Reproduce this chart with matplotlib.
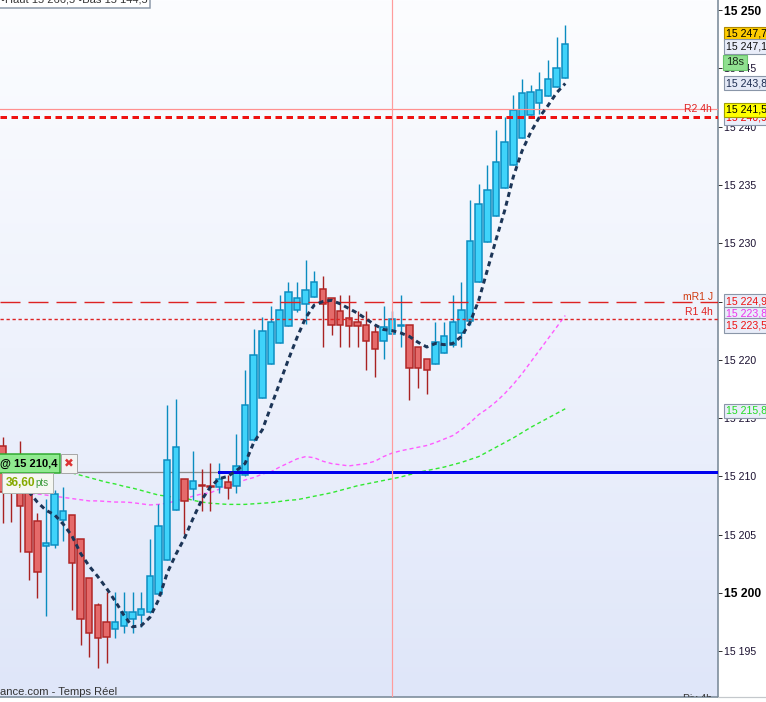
import numpy as np
import matplotlib
matplotlib.use('Agg')
import matplotlib.pyplot as plt
import matplotlib.transforms as mtransforms
from matplotlib.patches import Rectangle
from matplotlib.lines import Line2D
from matplotlib.colors import LinearSegmentedColormap

plt.rcParams['font.family'] = ['Liberation Sans', 'DejaVu Sans']
plt.rcParams['lines.scale_dashes'] = False

W, H, DPI = 766, 702, 100
PX = 72.0 / DPI

# ---------------- data ----------------
opens = [15212.6, 15210.0, 15208.6, 15208.8, 15206.2, 15204.0, 15204.1, 15206.3, 15206.65, 15204.6,
         15201.25, 15199.0, 15197.5, 15196.9, 15197.2, 15197.75, 15198.1, 15198.35, 15199.9, 15202.8,
         15207.1, 15209.75, 15208.9, 15209.2, 15209.2, 15209.1, 15209.5, 15209.2, 15210.1, 15213.1,
         15216.7, 15219.6, 15221.4, 15222.9, 15224.3, 15224.8, 15225.4, 15226.05, 15225.3, 15224.15,
         15223.55, 15223.2, 15223.0, 15222.35, 15221.6, 15222.2, 15222.87, 15222.96, 15221.1, 15220.1,
         15219.6, 15220.55, 15221.25, 15222.3, 15223.3, 15226.7, 15230.1, 15232.3, 15234.7, 15236.7,
         15239.0, 15241.0, 15242.0, 15242.6, 15243.4, 15244.2]
closes = [15208.7, 15208.8, 15207.5, 15203.5, 15201.8, 15204.3, 15208.5, 15207.0, 15202.6, 15197.8,
          15196.6, 15196.1, 15196.2, 15197.55, 15198.35, 15198.35, 15198.6, 15201.46, 15205.75, 15211.4,
          15212.5, 15207.9, 15209.6, 15209.2, 15209.05, 15209.8, 15209.0, 15210.9, 15216.1, 15220.4,
          15222.5, 15223.2, 15224.25, 15225.8, 15225.3, 15225.96, 15226.65, 15224.8, 15222.95, 15222.95,
          15222.9, 15222.9, 15221.6, 15220.9, 15222.8, 15223.5, 15222.96, 15219.3, 15219.3, 15219.1,
          15221.5, 15222.0, 15223.2, 15224.25, 15230.2, 15233.4, 15234.6, 15237.0, 15238.65, 15241.4,
          15242.9, 15243.0, 15243.1, 15244.1, 15245.0, 15247.1]
highs = [15213.4, 15210.5, 15213.0, 15209.2, 15206.9, 15208.1, 15208.8, 15209.1, 15206.7, 15204.6,
         15201.3, 15199.1, 15200.1, 15200.1, 15200.06, 15200.06, 15200.06, 15204.6, 15207.6, 15216.1,
         15216.6, 15209.75, 15212.2, 15210.6, 15211.15, 15211.15, 15210.1, 15213.6, 15219.1, 15222.6,
         15223.7, 15224.6, 15225.6, 15226.65, 15226.65, 15228.6, 15227.6, 15227.2, 15225.3, 15225.6,
         15225.6, 15224.2, 15224.2, 15223.1, 15224.6, 15224.2, 15225.6, 15222.96, 15221.1, 15220.1,
         15223.2, 15223.2, 15225.6, 15226.7, 15233.7, 15235.1, 15236.7, 15239.7, 15240.8, 15242.7,
         15244.1, 15243.6, 15244.65, 15245.7, 15247.7, 15248.7]
lows = [15206.0, 15206.1, 15203.5, 15201.1, 15199.6, 15198.05, 15203.9, 15204.5, 15198.5, 15195.5,
        15194.5, 15193.6, 15194.0, 15196.1, 15196.6, 15196.6, 15197.1, 15198.3, 15199.9, 15202.8,
        15207.1, 15205.1, 15208.0, 15207.05, 15207.05, 15208.6, 15208.1, 15208.6, 15210.0, 15213.0,
        15216.7, 15219.6, 15221.4, 15222.9, 15224.1, 15223.1, 15225.4, 15221.1, 15222.1, 15221.1,
        15221.1, 15221.1, 15219.1, 15218.55, 15220.1, 15222.2, 15221.1, 15216.55, 15217.6, 15217.1,
        15219.6, 15220.55, 15221.1, 15221.1, 15223.0, 15226.7, 15230.1, 15232.3, 15234.7, 15236.7,
        15239.0, 15241.0, 15241.1, 15242.6, 15243.4, 15244.2]

# dark trailing curve (starts at candle 3)
trail_start = 3
trail = [15208.7, 15207.8, 15207.1, 15206.7, 15205.9, 15204.9, 15203.4, 15202.3, 15201.4, 15200.4,
         15199.3, 15198.1, 15197.1, 15197.2, 15197.9, 15199.4, 15201.7, 15203.3, 15204.7, 15206.4,
         15208.0, 15209.1, 15209.8, 15210.0, 15210.5, 15211.1, 15212.9, 15214.0, 15216.0, 15218.0,
         15220.0, 15221.9, 15223.6, 15224.7, 15225.0, 15225.1, 15224.8, 15224.4, 15224.0, 15223.5,
         15223.0, 15222.6, 15222.5, 15222.3, 15222.0, 15221.5, 15221.1, 15221.4, 15221.3, 15221.4,
         15222.0, 15223.2, 15225.1, 15227.7, 15230.3, 15232.8, 15235.7, 15237.9, 15239.5, 15240.8,
         15241.8, 15242.9, 15243.7]

# magenta moving average (candles 0..65)
ma_fast = [15208.6, 15208.6, 15208.6, 15208.5, 15208.5, 15208.4, 15208.3, 15208.2, 15208.1, 15208.0,
           15207.9, 15207.9, 15207.85, 15207.8, 15207.8, 15207.75, 15207.65, 15207.55, 15207.6, 15207.7,
           15207.9, 15208.1, 15208.3, 15208.5, 15208.6, 15208.9, 15209.2, 15209.4, 15209.7, 15209.9,
           15210.2, 15210.4, 15210.8, 15211.15, 15211.5, 15211.7, 15211.6, 15211.3, 15211.1, 15211.0,
           15210.9, 15211.0, 15211.1, 15211.3, 15211.7, 15212.0, 15212.2, 15212.35, 15212.5, 15212.65,
           15212.9, 15213.2, 15213.5, 15214.0, 15214.6, 15215.3, 15215.8, 15216.4, 15217.1, 15217.9,
           15218.8, 15219.8, 15220.8, 15221.8, 15222.8, 15223.8]

# green moving average (starts at candle 8)
ma_slow_start = 8
ma_slow = [15210.3, 15210.1, 15209.9, 15209.7, 15209.5, 15209.35, 15209.15, 15209.0, 15208.8, 15208.6,
           15208.4, 15208.3, 15208.2, 15208.15, 15207.95, 15207.8, 15207.7, 15207.65, 15207.6, 15207.6,
           15207.6, 15207.65, 15207.7, 15207.75, 15207.85, 15207.95, 15208.0, 15208.15, 15208.3, 15208.45,
           15208.6, 15208.8, 15209.0, 15209.2, 15209.35, 15209.5, 15209.65, 15209.8, 15209.95, 15210.15,
           15210.35, 15210.5, 15210.65, 15210.8, 15211.0, 15211.2, 15211.45, 15211.7, 15212.1, 15212.5,
           15212.9, 15213.3, 15213.75, 15214.2, 15214.6, 15215.0, 15215.4, 15215.8]

yticks = [15195, 15200, 15205, 15210, 15215, 15220, 15225, 15230, 15235, 15240, 15245, 15250]
bold_ticks = [15200, 15250]

r2_4h = 15241.5
r2_dash = 15240.85
mr1_j = 15224.96
r1_4h = 15223.5
order_level = 15210.35
order_start = 25
cursor_idx = 45

# right-side price boxes: (text, y position, face, text colour, edge)
boxes = [
    ("15 247,7", 15247.96, "#ffcc00", "#000000", "#b08a00"),
    ("15 247,1", 15246.87, "#e9edf9", "#111111", "#8a96a8"),
    ("15 243,8", 15243.74, "#e4e9f6", "#1c2c50", "#8a96a8"),
    ("15 240,9", 15240.74, "#e9edf9", "#ee0000", "#8a96a8"),
    ("15 241,5", 15241.45, "#ffff00", "#000000", "#a0a000"),
    ("15 224,9", 15225.04, "#e9edf9", "#ee1111", "#8a96a8"),
    ("15 223,8", 15223.93, "#e9edf9", "#ee33ee", "#8a96a8"),
    ("15 223,5", 15222.94, "#e9edf9", "#ee1111", "#8a96a8"),
    ("15 215,8", 15215.61, "#e9edf9", "#22dd22", "#8a96a8"),
]

# ---------------- figure ----------------
fig = plt.figure(figsize=(W / DPI, H / DPI), dpi=DPI, facecolor='white')
ax = fig.add_axes([0, 5 / H, 718 / W, 697 / H])

x = np.arange(len(opens))
o = np.array(opens); c = np.array(closes); hi = np.array(highs); lo = np.array(lows)

# background gradient
cmap = LinearSegmentedColormap.from_list('bg', ['#fcfdff', '#eef2fc', '#dfe6f9'])
grad = np.linspace(0, 1, 256).reshape(-1, 1)
ax.imshow(grad, extent=[0, 1, 0, 1], transform=ax.transAxes, aspect='auto',
          cmap=cmap, origin='upper', zorder=0)

# moving averages
ax.plot(x, ma_fast, color='#ff5cff', lw=1.4 * PX, dashes=(4 * PX, 3 * PX), zorder=2)
ax.plot(x[ma_slow_start:ma_slow_start + len(ma_slow)], ma_slow, color='#33e833',
        lw=1.4 * PX, dashes=(4 * PX, 3 * PX), zorder=2)

# order line (grey) + blue part
ax.axhline(order_level, color='#8c8c8c', lw=1.3 * PX, zorder=2.5)

# candles
up = c > o
wick_col = np.where(up, '#0a8cc0', '#a82222')
body_col = np.where(up, '#3fd3fa', '#e56a6a')
edge_col = np.where(up, '#0a8cc0', '#b02424')
ax.vlines(x, lo, hi, colors=wick_col, lw=1.4 * PX, zorder=3)
bottom = np.minimum(o, c)
height = np.maximum(np.abs(c - o), 0.03)
ax.bar(x, height, bottom=bottom, width=0.74, color=body_col, edgecolor=edge_col,
       linewidth=1.5 * PX, zorder=3.2)

# horizontal levels
ax.plot([order_start, 100], [order_level, order_level], color='#0000ee', lw=3 * PX, zorder=5)
ax.axhline(r2_4h, color='#ff9090', lw=1.2 * PX, zorder=5)
ax.axhline(r2_dash, color='#ee1111', lw=3 * PX, dashes=(6.5 * PX, 4.5 * PX), zorder=5)
ax.axhline(mr1_j, color='#dd2222', lw=1.4 * PX, dashes=(20 * PX, 8 * PX), zorder=5)
ax.axhline(r1_4h, color='#dd2222', lw=1.4 * PX, dashes=(3.3 * PX, 2.7 * PX), zorder=5)
ax.axvline(cursor_idx, color='#ff9c9c', lw=1.2 * PX, zorder=5)

# trailing curve
ax.plot(x[trail_start:trail_start + len(trail)], trail, color='#1c3557', lw=3 * PX,
        dashes=(5 * PX, 4 * PX), solid_capstyle='butt', dash_capstyle='butt', zorder=6)

# limits
ax.set_xlim(-0.312, 82.65)
ax.set_ylim(15191.08, 15250.86)

# axes styling
for s in ['top', 'left']:
    ax.spines[s].set_visible(False)
ax.spines['right'].set_color('#7a8a99')
ax.spines['right'].set_linewidth(1.6 * PX)
ax.spines['bottom'].set_color('#7a8a99')
ax.spines['bottom'].set_linewidth(1.6 * PX)
ax.set_xticks([])
ax.yaxis.tick_right()
ax.set_yticks(yticks)
ax.set_yticklabels(['{:,}'.format(t).replace(',', ' ') for t in yticks])
ax.tick_params(axis='y', direction='out', length=4 * PX, width=1 * PX, color='#333333',
               pad=2 * PX)
for t, lab in zip(yticks, ax.get_yticklabels()):
    if t in bold_ticks:
        lab.set_fontweight('bold'); lab.set_fontsize(8.7); lab.set_color('#000000')
    else:
        lab.set_fontsize(7.6); lab.set_color('#1a1030')

# bottom line continuing under the axis area
fig.add_artist(Line2D([718 / W, 1], [5 / H, 5 / H], color='#c4c8cc', lw=1.2 * PX))

# level labels inside plot
trans = mtransforms.blended_transform_factory(ax.transAxes, ax.transData)
ax.text(712 / 718, r2_4h, 'R2 4h', transform=trans, ha='right', va='center',
        fontsize=7.5, color='#e02020', zorder=7)
ax.text(713 / 718, 15225.39, 'mR1 J', transform=trans, ha='right', va='center',
        fontsize=7.5, color='#d03a10', zorder=7)
ax.text(713 / 718, 15224.1, 'R1 4h', transform=trans, ha='right', va='center',
        fontsize=7.5, color='#e02020', zorder=7)

# right price boxes
for txt, yv, fc, tc, ec in boxes:
    ax.text(726 / 718, yv, txt, transform=trans, ha='left', va='center', fontsize=7.6,
            color=tc, clip_on=False, zorder=10,
            bbox=dict(boxstyle='square,pad=0.2', fc=fc, ec=ec, lw=0.8))
ax.text(726 / 718, 15245.5, '18s', transform=trans, ha='left', va='center', fontsize=8,
        color='#1a2a1a', clip_on=False, zorder=11,
        bbox=dict(boxstyle='square,pad=0.25', fc='#90e090', ec='#6cc46c', lw=0.8))

# left order labels (figure pixel coordinates)
def fx(px):
    return px / W

def fy(py):
    return 1 - py / H

fig.add_artist(Rectangle((fx(-3), fy(473)), fx(63), 19 / H, transform=fig.transFigure,
                         fc='#8fea8f', ec='#2faa2f', lw=1.5 * PX, zorder=20))
fig.text(fx(57.5), fy(463.5), '@ 15 210,4', ha='right', va='center', fontsize=8,
         fontweight='bold', color='#000000', zorder=21)
fig.add_artist(Rectangle((fx(60.5), fy(473)), fx(16.5), 19 / H, transform=fig.transFigure,
                         fc='#f3f3f3', ec='#a8a8a8', lw=1 * PX, zorder=20))
fig.text(fx(68.8), fy(463.5), '\u2716', ha='center', va='center', fontsize=8.5,
         color='#dd3333', family=['DejaVu Sans'], zorder=21)
fig.add_artist(Rectangle((fx(2), fy(493)), fx(51), 20 / H, transform=fig.transFigure,
                         fc='#f5f7f2', ec='#b0b4b0', lw=1 * PX, zorder=20))
fig.text(fx(6), fy(483), '36,60', ha='left', va='center', fontsize=8.6,
         fontweight='bold', color='#86aa00', zorder=21)
fig.text(fx(35), fy(483.5), 'pts', ha='left', va='center', fontsize=7,
         color='#3a9a3a', zorder=21)

# top-left clipped info box
fig.add_artist(Rectangle((fx(-3), fy(7.5)), fx(153), 30 / H, transform=fig.transFigure,
                         fc='#ffffff', ec='#8a98a8', lw=1.5 * PX, zorder=20))
fig.text(fx(1), fy(3.0), '\u2022Haut 15 266,5 \u2022Bas 15 144,5', ha='left', va='baseline',
         fontsize=8, color='#333333', zorder=21)

# bottom texts
fig.text(fx(0), fy(695), 'ance.com - Temps R\u00e9el', ha='left', va='baseline', fontsize=8,
         color='#333333', zorder=21)
ax.text(712 / 718, 3.0 / 697, 'Piv 4h', transform=ax.transAxes, ha='right', va='top',
        fontsize=7.5, color='#333333', clip_on=True, zorder=7)

fig.savefig('out.png', dpi=DPI, facecolor='white')
